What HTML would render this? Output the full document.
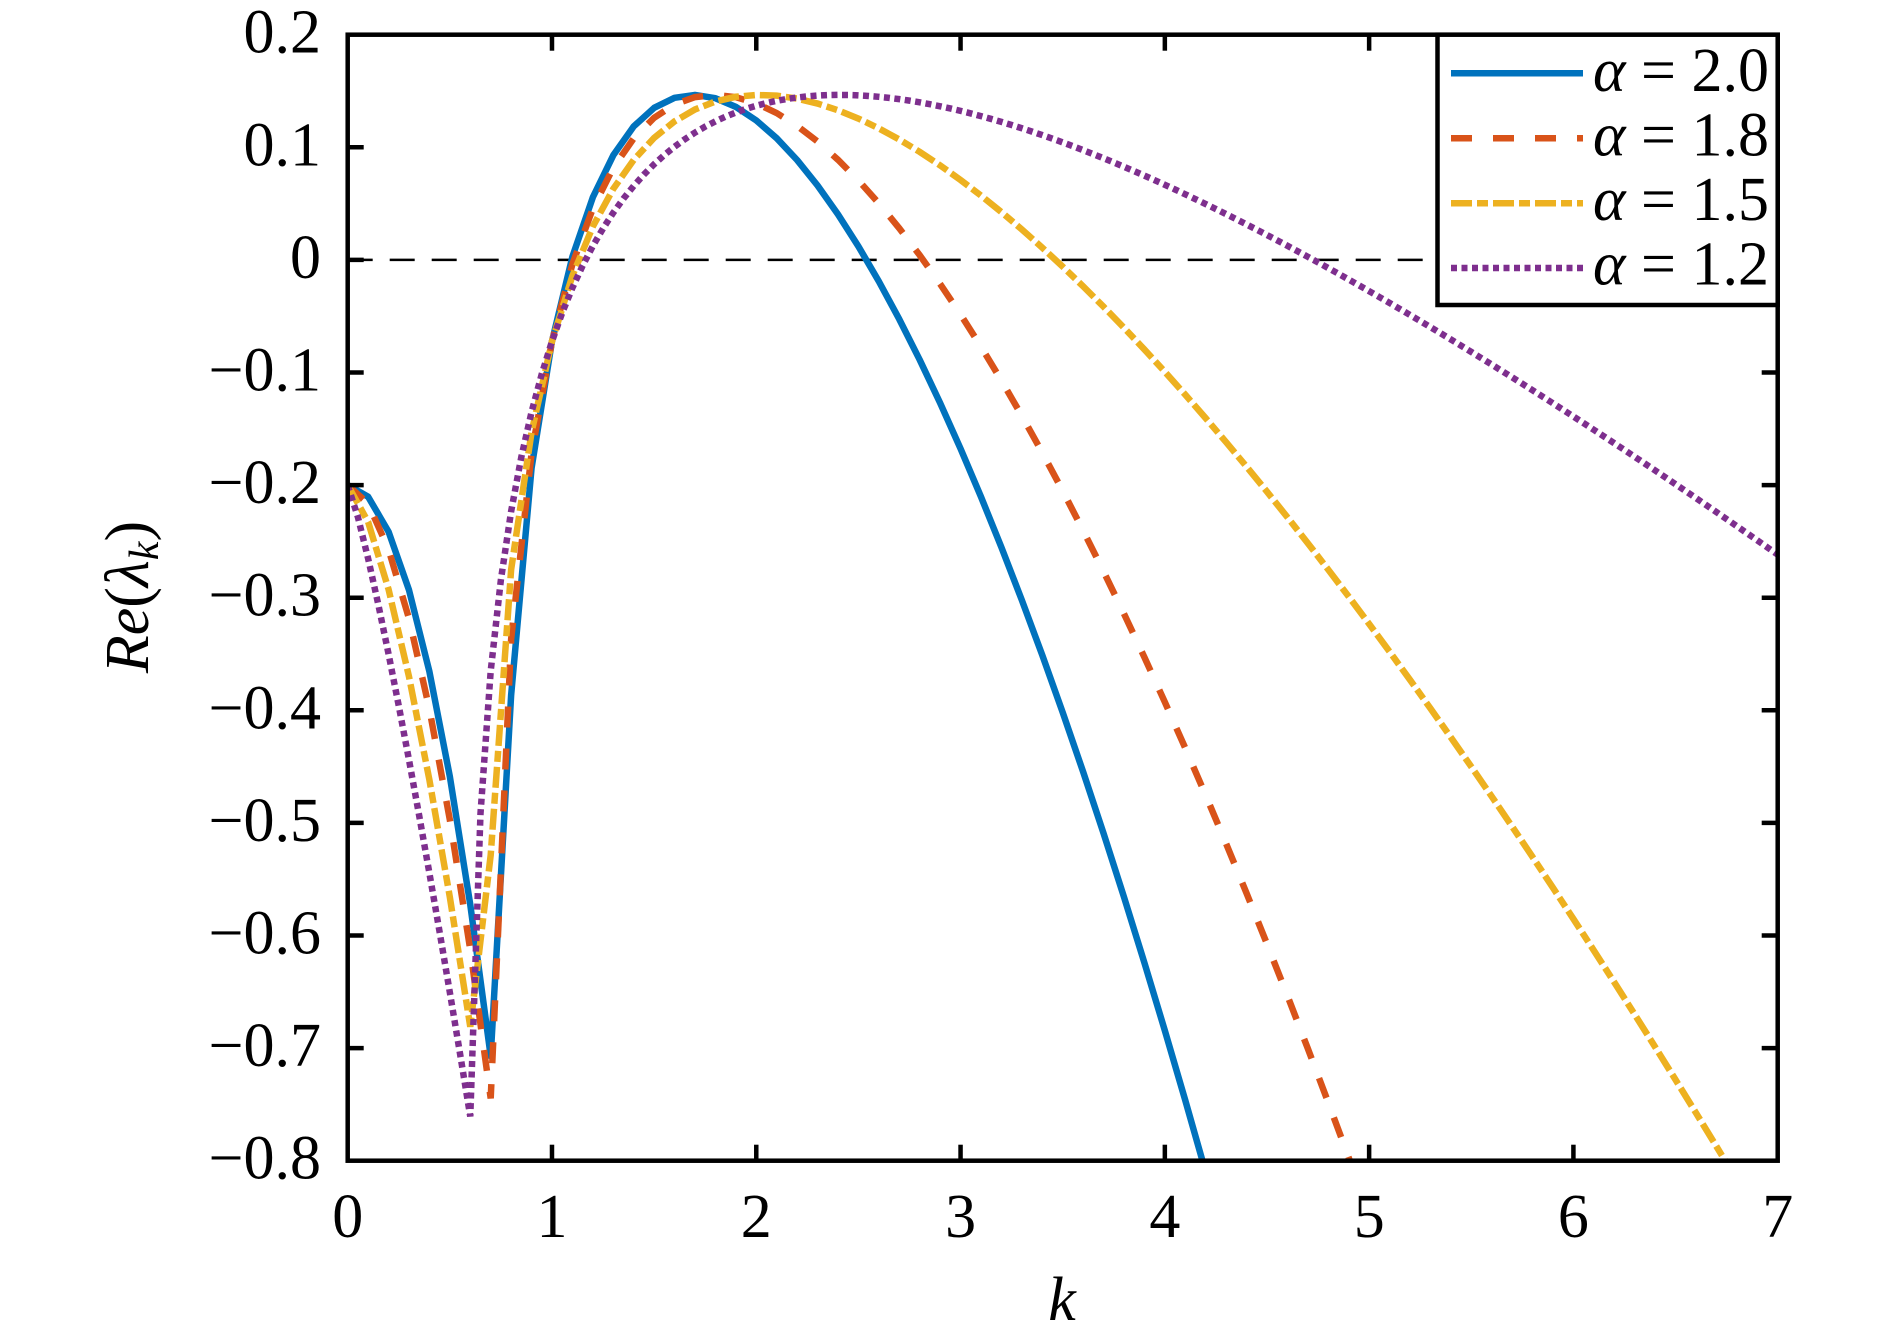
<!DOCTYPE html>
<html>
<head>
<meta charset="utf-8">
<style>
  html, body { margin:0; padding:0; background:#ffffff; }
  svg { display:block; }
  text { font-family: "Liberation Serif", "Times New Roman", serif; fill:#000; }
</style>
</head>
<body>
<svg id="chart" xmlns="http://www.w3.org/2000/svg" width="1890" height="1339" viewBox="0 0 1890 1339">
  <rect x="0" y="0" width="1890" height="1339" fill="#ffffff"/>
  <defs>
    <clipPath id="plotclip">
      <rect x="347.7" y="34.7" width="1430" height="1126"/>
    </clipPath>
  </defs>

  <!-- zero dashed line -->
  <line x1="347.7" y1="259.9" x2="1777.7" y2="259.9" stroke="#000" stroke-width="2.5" stroke-dasharray="25 17"/>

  <!-- data series -->
  <g clip-path="url(#plotclip)" fill="none">
    <path id="s20" stroke="#0072BD" stroke-width="6.5" stroke-linejoin="round"/>
    <path id="s18" stroke="#D95319" stroke-width="6.5" stroke-dasharray="21 21"/>
    <path id="s15" stroke="#EDB120" stroke-width="6.5" stroke-dasharray="21 5 11 5"/>
    <path id="s12" stroke="#7E2F8E" stroke-width="6.5" stroke-dasharray="6 4.5"/>
  </g>

  <!-- axes box -->
  <rect x="347.7" y="34.7" width="1430" height="1126" fill="none" stroke="#000" stroke-width="4.5"/>

  <!-- ticks -->
  <g id="ticks" stroke="#000" stroke-width="4.5"></g>

  <!-- y tick labels -->
  <g font-size="62" text-anchor="end">
    <text x="321" y="52.7">0.2</text>
    <text x="321" y="165.3">0.1</text>
    <text x="321" y="277.9">0</text>
    <text x="321" y="390.5">−0.1</text>
    <text x="321" y="503.1">−0.2</text>
    <text x="321" y="615.7">−0.3</text>
    <text x="321" y="728.3">−0.4</text>
    <text x="321" y="840.9">−0.5</text>
    <text x="321" y="953.5">−0.6</text>
    <text x="321" y="1066.1">−0.7</text>
    <text x="321" y="1178.7">−0.8</text>
  </g>

  <!-- x tick labels -->
  <g font-size="62" text-anchor="middle">
    <text x="347.7" y="1237">0</text>
    <text x="552.0" y="1237">1</text>
    <text x="756.3" y="1237">2</text>
    <text x="960.6" y="1237">3</text>
    <text x="1164.9" y="1237">4</text>
    <text x="1369.2" y="1237">5</text>
    <text x="1573.4" y="1237">6</text>
    <text x="1777.7" y="1237">7</text>
  </g>

  <!-- axis labels -->
  <text x="1062" y="1320" font-size="62" font-style="italic" text-anchor="middle">k</text>
  <text transform="translate(148,597) rotate(-90)" font-size="62" text-anchor="middle"><tspan font-style="italic">Re</tspan>(<tspan font-style="italic">λ</tspan><tspan font-style="italic" font-size="42" dy="10">k</tspan><tspan dy="-10">)</tspan></text>

  <!-- legend -->
  <rect x="1437.5" y="34.7" width="340.2" height="270.3" fill="#ffffff" stroke="#000" stroke-width="4.5"/>
  <line x1="1451" y1="73.3" x2="1583" y2="73.3" stroke="#0072BD" stroke-width="6.5"/>
  <line x1="1451" y1="138.3" x2="1583" y2="138.3" stroke="#D95319" stroke-width="6.5" stroke-dasharray="21 21"/>
  <line x1="1451" y1="203.3" x2="1583" y2="203.3" stroke="#EDB120" stroke-width="6.5" stroke-dasharray="21 5 11 5"/>
  <line x1="1451" y1="268" x2="1583" y2="268" stroke="#7E2F8E" stroke-width="6.5" stroke-dasharray="6 4.5"/>
  <g font-size="62">
    <text x="1593" y="91"><tspan font-style="italic">α</tspan> = 2.0</text>
    <text x="1593" y="155.5"><tspan font-style="italic">α</tspan> = 1.8</text>
    <text x="1593" y="220"><tspan font-style="italic">α</tspan> = 1.5</text>
    <text x="1593" y="284.5"><tspan font-style="italic">α</tspan> = 1.2</text>
  </g>
</svg>
<script>
(function(){
  var X0=347.7, X1=1777.7, Y0=34.7, Y1=1160.7;
  function xs(k){ return X0 + k*(X1-X0)/7; }
  function ys(v){ return Y0 + (0.2-v)*(Y1-Y0); }
  function lam(k,a){
    var s=Math.pow(k,a);
    var T=-0.4-2.07*s;
    var D=0.159*(s-1.2)*(s-6.45);
    var d=T*T-4*D;
    return d<0 ? T/2 : (T+Math.sqrt(d))/2;
  }
  function build(id,a,h){
    var n=Math.round(7/h), pts=[];
    for(var i=0;i<=n;i++){
      var k=i*h, v=lam(k,a), y=ys(v);
      if(y>1400){ y=1400; }
      pts.push((i?'L':'M')+xs(k).toFixed(2)+' '+y.toFixed(2));
    }
    document.getElementById(id).setAttribute('d',pts.join(' '));
  }
  build('s20',2.0,0.1);
  build('s18',1.8,0.1);
  build('s15',1.5,0.1);
  build('s12',1.2,0.05);

  var g=document.getElementById('ticks'), ns='http://www.w3.org/2000/svg', L=16;
  function ln(x1,y1,x2,y2){
    var e=document.createElementNS(ns,'line');
    e.setAttribute('x1',x1);e.setAttribute('y1',y1);e.setAttribute('x2',x2);e.setAttribute('y2',y2);
    g.appendChild(e);
  }
  for(var i=1;i<7;i++){
    var x=xs(i);
    ln(x,Y1,x,Y1-L); ln(x,Y0,x,Y0+L);
  }
  for(var j=1;j<10;j++){
    var y=Y0+j*(Y1-Y0)/10;
    ln(X0,y,X0+L,y); ln(X1,y,X1-L,y);
  }
})();
</script>
</body>
</html>
